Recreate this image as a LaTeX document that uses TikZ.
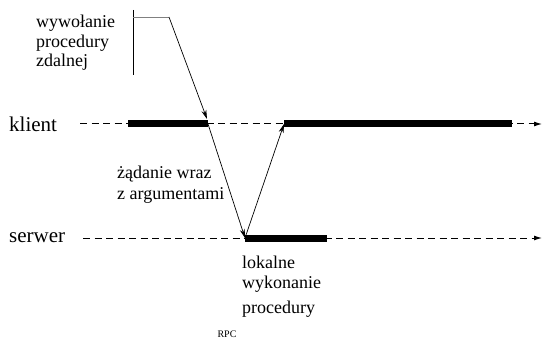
\documentclass[tikz,border=0pt]{standalone}
\usepackage{fontspec}
\setmainfont{Liberation Serif}
\usetikzlibrary{arrows.meta}
\begin{document}
\begin{tikzpicture}[x=1pt,y=-1pt,
  timeline/.style={line width=1pt,dash pattern=on 7pt off 4.5pt,-{Latex[length=8pt,width=5pt]}},
  busy/.style={line width=7pt},
  msg/.style={line width=0.7pt,-{Stealth[length=9pt,width=5pt]}},
  lab/.style={font=\fontsize{21}{24}\selectfont,anchor=west,inner sep=0pt},
  txt/.style={font=\fontsize{18}{21}\selectfont,align=left,anchor=north west,inner sep=0pt}]
\useasboundingbox (0,0) rectangle (543,342);
% lifelines
\node[lab] (klient) at (9,124) {klient};
\node[lab] (serwer) at (9,238) {serwer};
\coordinate (kS) at (80,124);
\coordinate (kE) at (542,124);
\coordinate (sS) at (83,238);
\coordinate (sE) at (542,238);
\draw[timeline] (kS) -- (kE);
\draw[timeline] (sS) -- (sE);
% busy bars
\coordinate (k1a) at (128,124);
\coordinate (k1b) at (208,124);
\coordinate (k2a) at (284,124);
\coordinate (k2b) at (512,124);
\coordinate (s1a) at (245,238);
\coordinate (s1b) at (327,238);
\draw[busy] (k1a) -- (k1b);
\draw[busy] (k2a) -- (k2b);
\draw[busy] (s1a) -- (s1b);
% messages
\draw[msg] (k1b) -- (s1a);
\draw[msg] (s1a) -- (k2a);
% call annotation
\node[txt] (call) at (36,15) {wywołanie\\[-1pt]procedury\\[-2pt]zdalnej};
\coordinate (v1) at (133,10);
\coordinate (v2) at (133,75);
\coordinate (h1) at (133,17);
\coordinate (h2) at (169,17);
\draw[line width=0.7pt] (v1) -- (v2);
\draw[line width=0.7pt,gray] (h1) -- (h2);
\draw[msg] (h2) -- (207,119);
% labels
\node[txt] (req) at (117,166) {żądanie wraz\\z argumentami};
\node[txt] (loc) at (242,256) {lokalne\\[-1pt]wykonanie\\[4pt]procedury};
\node[font=\fontsize{10}{12}\selectfont,inner sep=0pt] (rpc) at (227,334) {RPC};
\end{tikzpicture}
\end{document}
